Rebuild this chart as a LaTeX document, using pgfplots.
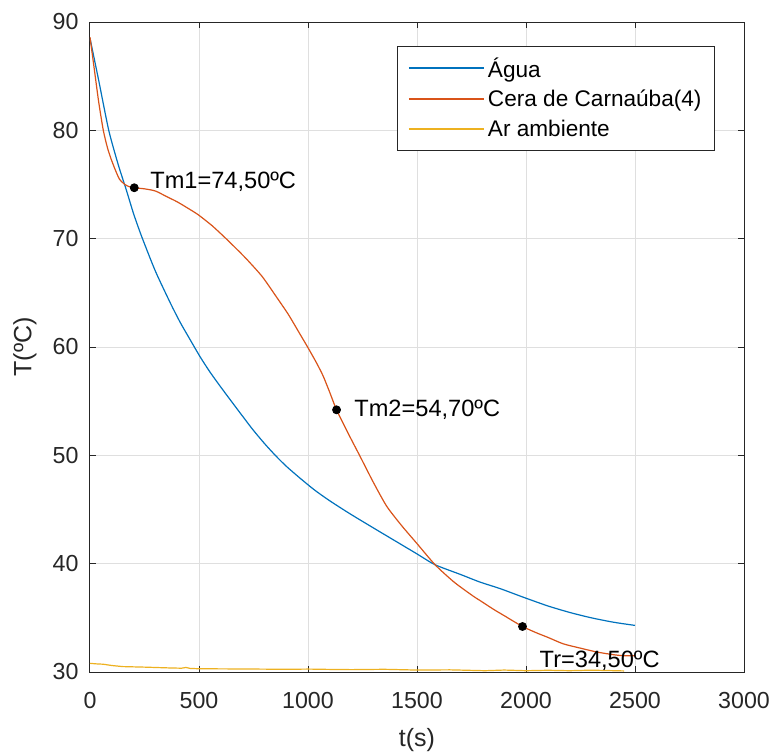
\documentclass[border=0pt]{standalone}
\usepackage{fontspec}
\setmainfont{Liberation Sans}
\usepackage{pgfplots}
\pgfplotsset{compat=1.18}
\definecolor{mblue}{rgb}{0,0.447,0.741}
\definecolor{morange}{rgb}{0.85,0.325,0.098}
\definecolor{myellow}{rgb}{0.929,0.694,0.125}
\definecolor{axgray}{rgb}{0.15,0.15,0.15}
\definecolor{gridgray}{rgb}{0.875,0.875,0.875}
\begin{document}
\begin{tikzpicture}
\path[use as bounding box] (-45pt,-41.5pt) rectangle (342pt,336pt);
\begin{axis}[
  at={(0,0)}, anchor=south west,
  width=327pt, height=325pt, scale only axis,
  xmin=0, xmax=3000, ymin=30, ymax=90,
  xtick={0,500,...,3000}, ytick={30,40,...,90},
  grid=major, major grid style={gridgray, line width=0.5pt},
  axis line style={axgray, line width=0.5pt},
  tick style={axgray, line width=0.5pt}, tick align=inside, major tick length=3pt,
  tick pos=both,
  ticklabel style={font=\fontsize{11.6}{13}\selectfont, text=axgray},
  /pgf/number format/assume math mode=true,
  scaled x ticks=false,
  x tick label style={/pgf/number format/1000 sep={}, yshift=-6.7pt},
  y tick label style={xshift=-2.2pt},
  xlabel={t(s)}, ylabel={T(ºC)},
  label style={font=\fontsize{12.5}{14}\selectfont, text=axgray},
  xlabel style={at={(axis description cs:0.5,-0.1046)}, anchor=center},
  ylabel style={at={(axis description cs:-0.0994,0.5)}, anchor=center},
  legend style={at={(0.9557,0.963)}, anchor=north east, draw=axgray, line width=0.5pt,
    font=\fontsize{11.3}{13}\selectfont, text=black, fill=white,
    inner xsep=5pt, inner ysep=4pt, row sep=2pt, nodes={inner sep=1.5pt, anchor=west}},
  legend cell align=left,
  legend image code/.code={\draw[#1, sharp plot, line width=1pt] (0pt,0.25pt) -- (37.5pt,0.25pt);},
]
\addplot[draw=mblue, line width=0.6pt, smooth, tension=0.4] coordinates {
(0,88.5) (40,84.6) (86,80.0) (130,76.8) (165,74.6) (200,72.3) (237,70.2) (300,67.0)
(370,64.0) (413,62.3) (450,61.0) (505,59.1) (550,57.7) (600,56.3) (650,54.95) (742,52.5)
(800,51.1) (850,50.0) (900,49.0) (963,47.9) (1030,46.8) (1100,45.8) (1193,44.6)
(1300,43.3) (1400,42.1) (1500,40.9) (1583,39.9) (1700,39.0) (1789,38.3) (1881,37.7)
(1988,36.9) (2100,36.1) (2200,35.5) (2300,35.0) (2400,34.6) (2500,34.3)};
\addlegendentry{Água}
\addplot[draw=morange, line width=0.6pt, smooth, tension=0.4] coordinates {
(0,88.6) (20,85.6) (40,82.6) (61,80.0) (80,78.4) (96,77.4) (115,76.4) (135,75.5)
(160,75.0) (180,74.8) (203,74.7) (250,74.6) (300,74.4) (350,73.9) (400,73.4)
(450,72.8) (497,72.2) (560,71.2) (619,70.1) (670,69.1) (719,68.1) (790,66.5)
(856,64.6) (910,63.0) (963,61.2) (1001,59.9) (1040,58.5) (1070,57.3) (1100,55.8)
(1131,54.2) (1185,52.0) (1239,49.9) (1300,47.5) (1361,45.3) (1430,43.5) (1498,41.9)
(1583,39.9) (1670,38.3) (1758,37.0) (1789,36.6) (1850,35.8) (1900,35.2) (1984,34.2)
(2050,33.6) (2100,33.2) (2171,32.6) (2250,32.2) (2324,31.85) (2400,31.6) (2450,31.5)
(2500,31.5)};
\addlegendentry{Cera de Carnaúba(4)}
\addplot[draw=myellow, line width=0.6pt] coordinates {
(0,30.8) (30,30.75) (60,30.72) (100,30.6) (150,30.5) (250,30.45) (358,30.38)
(420,30.35) (440,30.42) (460,30.33) (500,30.3) (700,30.28) (900,30.25) (1000,30.27)
(1100,30.24) (1200,30.22) (1350,30.25) (1500,30.18) (1650,30.2) (1812,30.12)
(1900,30.18) (2000,30.12) (2100,30.16) (2200,30.12) (2300,30.17) (2450,30.1)};
\addlegendentry{Ar ambiente}
\addplot[only marks, mark=*, mark size=2pt, black, forget plot] coordinates {
(203,74.7) (1131,54.2) (1984,34.2)};
\node[anchor=base west, inner sep=0pt, font=\fontsize{11.8}{13}\selectfont] at (axis cs:275,74.62) {Tm1=74,50ºC};
\node[anchor=base west, inner sep=0pt, font=\fontsize{11.8}{13}\selectfont] at (axis cs:1211,53.6) {Tm2=54,70ºC};
\node[anchor=base west, inner sep=0pt, font=\fontsize{11.8}{13}\selectfont] at (axis cs:2061,30.39) {Tr=34,50ºC};
\end{axis}
\end{tikzpicture}
\end{document}
